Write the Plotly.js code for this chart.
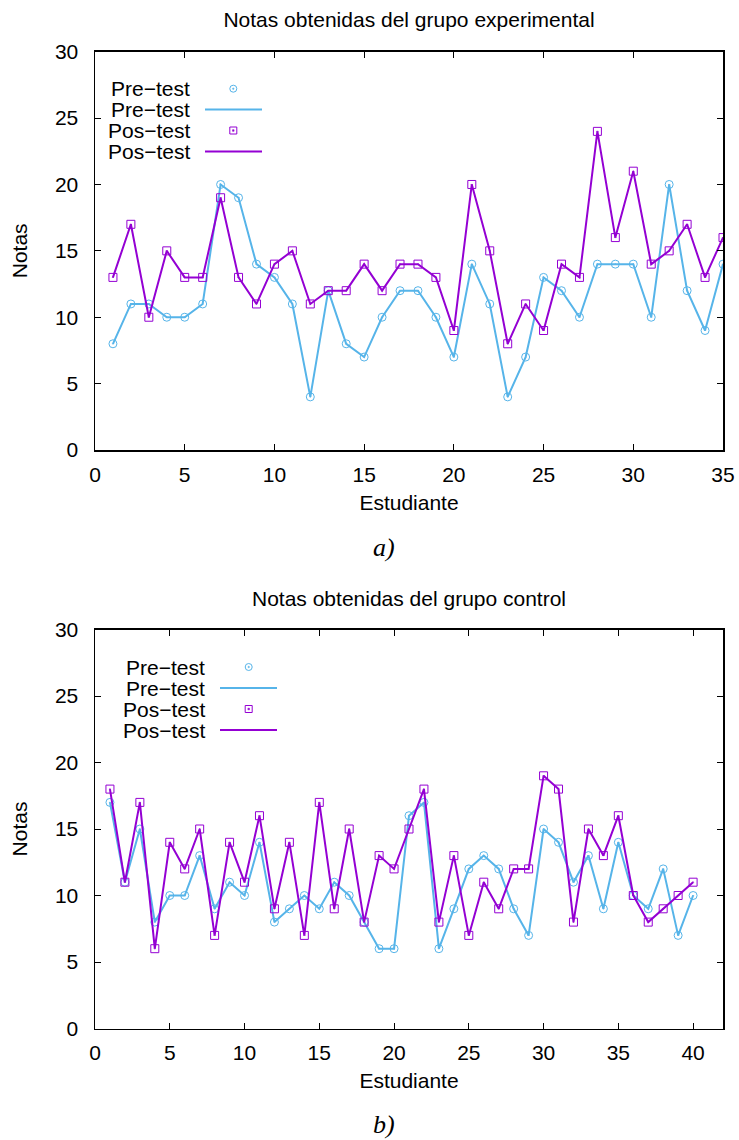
<!DOCTYPE html>
<html><head><meta charset="utf-8">
<script src="https://cdn.plot.ly/plotly-3.0.1.min.js"></script>
<style>html,body{margin:0;padding:0;background:#fff}#chart{width:739px;height:1140px}</style>
</head><body><div id="chart"></div>
<script>
// ---- data ----
const studentsExp = [1,2,3,4,5,6,7,8,9,10,11,12,13,14,15,16,17,18,19,20,21,22,23,24,25,26,27,28,29,30,31,32,33,34,35];
const preExp = [8,11,11,10,10,11,20,19,14,13,11,4,12,8,7,10,12,12,10,7,14,11,4,7,13,12,10,14,14,14,10,20,12,9,14];
const posExp = [13,17,10,15,13,13,19,13,11,14,15,11,12,12,14,12,14,14,13,9,20,15,8,11,9,14,13,24,16,21,14,15,17,13,16];
const studentsCtl = [1,2,3,4,5,6,7,8,9,10,11,12,13,14,15,16,17,18,19,20,21,22,23,24,25,26,27,28,29,30,31,32,33,34,35,36,37,38,39,40];
const preCtl = [17,11,15,8,10,10,13,9,11,10,14,8,9,10,9,11,10,8,6,6,16,17,6,9,12,13,12,9,7,15,14,11,13,9,14,10,9,12,7,10];
const posCtl = [18,11,17,6,14,12,15,7,14,11,16,9,14,7,17,9,15,8,13,12,15,18,8,13,7,11,9,12,12,19,18,8,15,13,16,10,8,9,10,11];
const yTicks = [0,5,10,15,20,25,30];
const xTicksExp = [0,5,10,15,20,25,30,35];
const xTicksCtl = [0,5,10,15,20,25,30,35,40];
const seriesNames = ['Pre\u2212test','Pos\u2212test'];
const chartTitles = ['Notas obtenidas del grupo experimental','Notas obtenidas del grupo control'];
const captions = ['a)','b)'];
const xTitle = 'Estudiante';
const yTitle = 'Notas';

// ---- styling ----
const W = 739, H = 1140;
const BLUE = '#56B4E9', PURPLE = '#9400D3';
const FONT = 'Liberation Sans, Arial, Helvetica, sans-serif';
const FS = 21;
const px = v => v / W;
const py = v => 1 - v / H;

function traces(xs, pre, pos, xa, ya) {
  return [
    {x: xs, y: pre, xaxis: xa, yaxis: ya, mode: 'markers', name: seriesNames[0], showlegend: false,
     marker: {symbol: 'circle-open-dot', size: 8, color: BLUE, line: {width: 1, color: BLUE}}},
    {x: xs, y: pre, xaxis: xa, yaxis: ya, mode: 'lines', name: seriesNames[0], showlegend: false,
     line: {color: BLUE, width: 2}},
    {x: xs, y: pos, xaxis: xa, yaxis: ya, mode: 'markers', name: seriesNames[1], showlegend: false,
     marker: {symbol: 'square-open-dot', size: 8, color: PURPLE, line: {width: 1, color: PURPLE}}},
    {x: xs, y: pos, xaxis: xa, yaxis: ya, mode: 'lines', name: seriesNames[1], showlegend: false,
     line: {color: PURPLE, width: 2}}
  ];
}

const data = [].concat(
  traces(studentsExp, preExp, posExp, 'x', 'y'),
  traces(studentsCtl, preCtl, posCtl, 'x2', 'y2')
);

function xAxis(range, ticks, anchor) {
  return {
    domain: [px(95), px(723)], range: range, anchor: anchor,
    tickmode: 'array', tickvals: ticks, ticks: 'inside', ticklen: 6, tickwidth: 1, tickcolor: '#000',
    showline: true, linecolor: '#000', linewidth: 1.5, mirror: 'ticks',
    showgrid: false, zeroline: false, ticklabelstandoff: 5,
    tickfont: {family: FONT, size: FS, color: '#000'},
    title: {text: xTitle, font: {family: FONT, size: FS, color: '#000'}, standoff: 10}
  };
}
function yAxis(domain, anchor) {
  return {
    domain: domain, range: [0, 30], anchor: anchor,
    tickmode: 'array', tickvals: yTicks, ticks: 'inside', ticklen: 6, tickwidth: 1, tickcolor: '#000',
    showline: true, linecolor: '#000', linewidth: 1.5, mirror: 'ticks',
    showgrid: false, zeroline: false, ticklabelstandoff: 11,
    tickfont: {family: FONT, size: FS, color: '#000'},
    title: {text: yTitle, font: {family: FONT, size: FS, color: '#000'}, standoff: 21}
  };
}

// custom gnuplot-style keys (text on the left, sample on the right)
const annotations = [];
const shapes = [];
function key(rows, textRight, lineX0, lineX1, markX) {
  const items = [
    {name: seriesNames[0], kind: 'circle', color: BLUE},
    {name: seriesNames[0], kind: 'line', color: BLUE},
    {name: seriesNames[1], kind: 'square', color: PURPLE},
    {name: seriesNames[1], kind: 'line', color: PURPLE}
  ];
  items.forEach((it, i) => {
    annotations.push({xref: 'paper', yref: 'paper', x: px(textRight), y: py(rows[i]),
      xanchor: 'right', yanchor: 'middle', showarrow: false, text: it.name,
      font: {family: FONT, size: FS, color: '#000'}});
    if (it.kind === 'line') {
      shapes.push({type: 'line', xref: 'paper', yref: 'paper', x0: px(lineX0), x1: px(lineX1),
        y0: py(rows[i]), y1: py(rows[i]), line: {color: it.color, width: 2}});
    } else {
      const t = it.kind === 'circle' ? 'circle' : 'rect';
      shapes.push({type: t, xref: 'paper', yref: 'paper', xsizemode: 'pixel', ysizemode: 'pixel',
        xanchor: px(markX), yanchor: py(rows[i]), x0: -3.5, x1: 3.5, y0: -3.5, y1: 3.5,
        line: {color: it.color, width: 1}});
      shapes.push({type: t, xref: 'paper', yref: 'paper', xsizemode: 'pixel', ysizemode: 'pixel',
        xanchor: px(markX), yanchor: py(rows[i]), x0: -0.8, x1: 0.8, y0: -0.8, y1: 0.8,
        fillcolor: it.color, line: {color: it.color, width: 0.5}});
    }
  });
}
key([88.7, 109.5, 130.5, 151.5], 191.7, 205, 262, 233.3);
key([667, 688, 709, 730], 206.7, 220, 277, 248.7);

annotations.push({xref: 'paper', yref: 'paper', x: px(409), y: py(598), xanchor: 'center', yanchor: 'middle',
  showarrow: false, text: chartTitles[1], font: {family: FONT, size: FS, color: '#000'}});
annotations.push({xref: 'paper', yref: 'paper', x: px(384), y: py(548), xanchor: 'center', yanchor: 'middle',
  showarrow: false, text: '<i>' + captions[0] + '</i>', font: {family: 'Liberation Serif, serif', size: 26, color: '#000'}});
annotations.push({xref: 'paper', yref: 'paper', x: px(384), y: py(1124), xanchor: 'center', yanchor: 'middle',
  showarrow: false, text: '<i>' + captions[1] + '</i>', font: {family: 'Liberation Serif, serif', size: 26, color: '#000'}});

const layout = {
  width: W, height: H,
  margin: {l: 0, r: 0, t: 0, b: 0},
  paper_bgcolor: '#fff', plot_bgcolor: '#fff',
  showlegend: false,
  title: {text: chartTitles[0], font: {family: FONT, size: FS, color: '#000'},
          xref: 'paper', yref: 'paper', x: px(409), xanchor: 'center', y: py(20), yanchor: 'middle'},
  xaxis: xAxis([0, 35], xTicksExp, 'y'),
  yaxis: yAxis([py(450), py(51.7)], 'x'),
  xaxis2: xAxis([0, 42], xTicksCtl, 'y2'),
  yaxis2: yAxis([py(1028.5), py(629.5)], 'x2'),
  annotations: annotations,
  shapes: shapes
};

Plotly.newPlot('chart', data, layout, {displayModeBar: false, staticPlot: true});
</script>
</body></html>
